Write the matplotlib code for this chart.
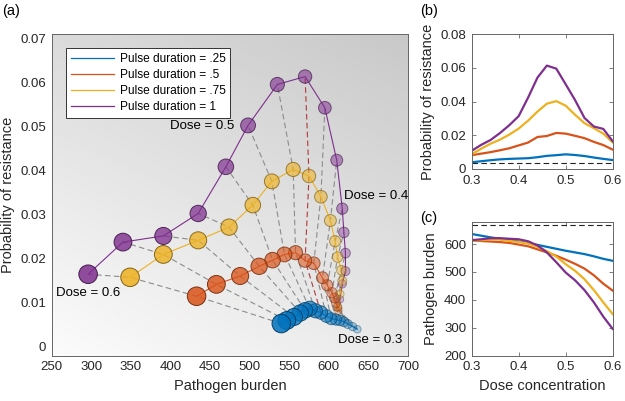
import matplotlib
matplotlib.use("Agg")
import matplotlib.pyplot as plt
import numpy as np

plt.rcParams['font.family'] = ['Liberation Sans', 'DejaVu Sans']

# dose levels (0.3 .. 0.6)
dose = [0.30, 0.32, 0.34, 0.36, 0.38, 0.40, 0.42, 0.44,
        0.46, 0.48, 0.50, 0.52, 0.54, 0.56, 0.58, 0.60]

# pathogen burden per pulse duration
burden_25 = [636, 630, 624, 619, 614, 609, 603, 597, 590, 583, 576, 570, 564, 556, 547, 540]
burden_50 = [612, 611, 609, 607, 604, 598, 592, 581, 570, 558, 544, 529, 512, 488, 458, 433]
burden_75 = [612, 614, 617, 616, 611, 608, 602, 590, 575, 555, 528, 504, 474, 435, 391, 349]
burden_100 = [614, 617, 621, 621, 619, 617, 610, 595, 570, 535, 498, 470, 435, 391, 340, 296]

# probability of resistance per pulse duration
prob_25 = [0.0040, 0.0046, 0.0052, 0.0057, 0.0060, 0.0062, 0.0064, 0.0070,
           0.0078, 0.0082, 0.0087, 0.0083, 0.0077, 0.0068, 0.0060, 0.0053]
prob_50 = [0.0082, 0.0091, 0.0100, 0.0111, 0.0123, 0.0140, 0.0157, 0.0190,
           0.0196, 0.0214, 0.0210, 0.0197, 0.0183, 0.0161, 0.0142, 0.0115]
prob_75 = [0.0088, 0.0120, 0.0150, 0.0174, 0.0204, 0.0240, 0.0287, 0.0341,
           0.0388, 0.0403, 0.0376, 0.0322, 0.0272, 0.0242, 0.0210, 0.0158]
prob_100 = [0.0108, 0.0143, 0.0172, 0.0213, 0.0260, 0.0314, 0.0424, 0.0543,
            0.0614, 0.0596, 0.0503, 0.0409, 0.0303, 0.0252, 0.0238, 0.0165]

labels = ['Pulse duration = .25', 'Pulse duration = .5',
          'Pulse duration = .75', 'Pulse duration = 1']
colors = ['#0072BD', '#D95319', '#EDB120', '#7E2F8E']
burdens = [burden_25, burden_50, burden_75, burden_100]
probs = [prob_25, prob_50, prob_75, prob_100]

highlight_dose = 0.46
no_treat_burden = 668
baseline_prob = 0.0035

fig = plt.figure(figsize=(6.25, 4.01), dpi=100)
ax = fig.add_axes([0.0827, 0.1130, 0.5701, 0.8015])
axb = fig.add_axes([0.7547, 0.5786, 0.2256, 0.3359])
axc = fig.add_axes([0.7547, 0.1130, 0.2256, 0.3341])

# --- panel (a) ---
# gradient background
gx, gy = np.meshgrid(np.linspace(0, 1, 200), np.linspace(0, 1, 200))
grad = 0.985 - 0.13 * gy - 0.07 * gx
ax.imshow(grad, extent=[0, 1, 0, 1], transform=ax.transAxes, origin='lower',
          aspect='auto', cmap='gray', vmin=0, vmax=1, zorder=0, interpolation='bilinear')

B = np.array(burdens)
P = np.array(probs)
for i, d in enumerate(dose):
    c = '#b03a3a' if abs(d - highlight_dose) < 1e-6 else '#8c8c8c'
    ax.plot(B[:, i], P[:, i], color=c, lw=0.8, ls=(0, (5, 3)), zorder=1)

d_arr = np.array(dose)
frac = (d_arr - 0.3) / 0.3
sizes = (7.5 + 11 * frac) ** 2 * 0.52
alphas = 0.25 + 0.6 * frac
for k in [3, 2, 1, 0]:
    col = np.array(matplotlib.colors.to_rgb(colors[k]))
    ax.plot(burdens[k], probs[k], color=colors[k], lw=0.8, zorder=2)
    fc = np.zeros((len(dose), 4))
    fc[:, :3] = col
    fc[:, 3] = alphas
    ec = np.zeros((len(dose), 4))
    ec[:, :3] = col * 0.55
    ec[:, 3] = np.clip(alphas + 0.15, 0, 1)
    ax.scatter(burdens[k], probs[k], s=sizes, c=fc, edgecolors=ec,
               linewidths=0.7, zorder=3 + (3 - k))

# legend proxies
handles = [ax.plot([], [], color=c, lw=0.9)[0] for c in colors]
leg = ax.legend(handles, labels, loc='upper left', bbox_to_anchor=(0.04, 0.957),
                fontsize=8.6, frameon=True, fancybox=False, framealpha=1,
                edgecolor='#333333', borderpad=0.4, labelspacing=0.35,
                handlelength=3.6, handletextpad=0.5, borderaxespad=0)
leg.get_frame().set_linewidth(0.7)

ax.text(480, 0.0501, 'Dose = 0.5', ha='right', va='center', fontsize=9.5)
ax.text(619, 0.0343, 'Dose = 0.4', ha='left', va='center', fontsize=9.5)
ax.text(256, 0.0122, 'Dose = 0.6', ha='left', va='center', fontsize=9.5)
ax.text(612, 0.0016, 'Dose = 0.3', ha='left', va='center', fontsize=9.5)

ax.set_xlim(250, 700)
ax.set_ylim(-0.002, 0.071)
ax.set_xticks(np.arange(250, 701, 50))
yt = np.arange(0, 0.0701, 0.01)
ax.set_yticks(yt)
ax.set_yticklabels(['0'] + ['%.2f' % v for v in yt[1:]])
ax.set_xlabel('Pathogen burden', fontsize=10.5, color='#262626')
ax.set_ylabel('Probability of resistance', fontsize=10.5, color='#262626')

# --- panel (b) ---
for k in range(4):
    axb.plot(dose, probs[k], color=colors[k], lw=1.6)
axb.axhline(baseline_prob, color='#222222', lw=0.8, ls=(0, (5, 3)))
axb.set_xlim(0.3, 0.6)
axb.set_ylim(0, 0.08)
axb.set_xticks([0.3, 0.4, 0.5, 0.6])
axb.set_yticks([0, 0.02, 0.04, 0.06, 0.08])
axb.set_yticklabels(['0', '0.02', '0.04', '0.06', '0.08'])
axb.set_ylabel('Probability of resistance', fontsize=10.5, color='#262626')

# --- panel (c) ---
for k in range(4):
    axc.plot(dose, burdens[k], color=colors[k], lw=1.6)
axc.axhline(no_treat_burden, color='#222222', lw=0.8, ls=(0, (5, 3)))
axc.set_xlim(0.3, 0.6)
axc.set_ylim(200, 680)
axc.set_xticks([0.3, 0.4, 0.5, 0.6])
axc.set_yticks([200, 300, 400, 500, 600])
axc.set_xlabel('Dose concentration', fontsize=10.5, color='#262626')
axc.set_ylabel('Pathogen burden', fontsize=10.5, color='#262626')

for a in [ax, axb, axc]:
    for s in a.spines.values():
        s.set_color('#666666')
        s.set_linewidth(0.7)
    a.tick_params(direction='in', length=3, width=0.6, color='#666666',
                  labelsize=9.5, labelcolor='#262626', top=True, right=True, pad=4)
ax.tick_params(length=0)

fig.text(0.004, 0.972, '(a)', fontsize=10.5, va='center', ha='left')
fig.text(0.672, 0.972, '(b)', fontsize=10.5, va='center', ha='left')
fig.text(0.672, 0.457, '(c)', fontsize=10.5, va='center', ha='left')

fig.savefig('out.png', dpi=100)
